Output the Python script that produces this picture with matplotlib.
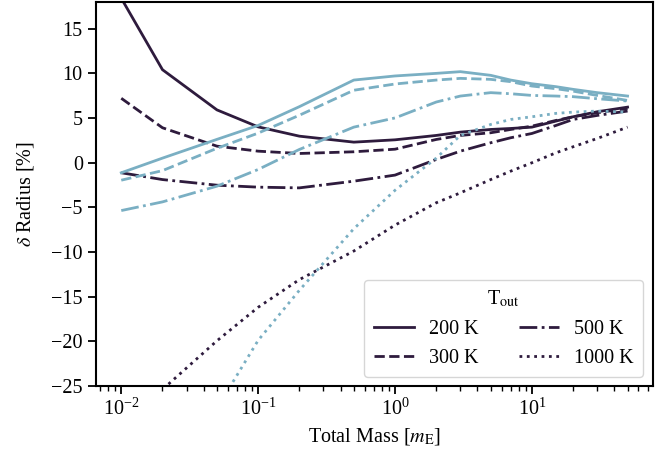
import matplotlib
matplotlib.use("Agg")
import matplotlib.pyplot as plt

plt.rcParams['font.family'] = ['Liberation Serif', 'DejaVu Serif']
plt.rcParams['mathtext.fontset'] = 'stix'
plt.rcParams['font.size'] = 14.5

# total mass grid [Earth masses]
mass = [0.01, 0.02, 0.05, 0.1, 0.2, 0.5, 1, 2, 3, 5, 7, 10, 15, 20, 30, 50]

# delta radius [%], dark family
dark_200 = [18.4, 10.4, 5.9, 4.0, 2.96, 2.29, 2.55, 3.04, 3.41, 3.71, 3.82, 3.97, 4.65, 5.13, 5.69, 6.21]
dark_300 = [7.2, 3.9, 1.84, 1.28, 1.02, 1.21, 1.5, 2.59, 3.04, 3.34, 3.71, 4.08, 4.72, 5.13, 5.58, 6.07]
dark_500 = [-1.14, -1.9, -2.53, -2.75, -2.83, -2.08, -1.4, 0.35, 1.28, 2.22, 2.78, 3.26, 4.16, 4.83, 5.28, 5.77]
dark_1000 = [-30.0, -25.4, -19.95, -16.2, -13.1, -9.9, -7.0, -4.5, -3.39, -1.9, -0.96, -0.02, 1.1, 1.77, 2.7, 3.97]

# delta radius [%], light family
light_200 = [-1.14, 0.5, 2.6, 4.16, 6.26, 9.24, 9.7, 9.99, 10.18, 9.77, 9.24, 8.83, 8.5, 8.2, 7.83, 7.45]
light_300 = [-1.97, -0.9, 1.6, 3.3, 5.3, 8.1, 8.8, 9.24, 9.43, 9.32, 9.06, 8.57, 8.27, 8.0, 7.52, 6.96]
light_500 = [-5.37, -4.4, -2.64, -0.77, 1.47, 3.97, 5.0, 6.78, 7.45, 7.83, 7.71, 7.52, 7.45, 7.38, 7.15, 6.89]
light_1000 = [-42.0, -36.0, -27.5, -19.9, -14.3, -7.4, -3.1, 0.5, 3.04, 4.27, 4.83, 5.13, 5.51, 5.65, 5.77, 5.65]

labels = ['200 K', '300 K', '500 K', '1000 K']
styles = ['-', '--', '-.', ':']
dark = '#2e1b3d'
light = '#7aafc3'

fig = plt.figure(figsize=(6.71, 4.54), dpi=100)
ax = fig.add_axes([0.143, 0.150, 0.830, 0.846])

for ys, ls, lab in zip([dark_200, dark_300, dark_500, dark_1000], styles, labels):
    ax.plot(mass, ys, color=dark, ls=ls, lw=2, label=lab)
for ys, ls in zip([light_200, light_300, light_500, light_1000], styles):
    ax.plot(mass, ys, color=light, ls=ls, lw=2)

ax.set_xscale('log')
ax.set_ylim(-25, 18)
ax.set_yticks([-25, -20, -15, -10, -5, 0, 5, 10, 15])
ax.set_xlabel(r'Total Mass [$m_\mathrm{E}$]', labelpad=4)
ax.set_ylabel(r'$\delta$ Radius [%]', labelpad=11)

for s in ax.spines.values():
    s.set_linewidth(1.5)
ax.tick_params(which='major', direction='out', length=6, width=1.3)
ax.tick_params(which='minor', direction='out', length=3.5, width=1.0)

leg = ax.legend(title=r'T$_\mathrm{out}$', ncol=2, loc='lower right',
                handlelength=2.0, columnspacing=2.0, fancybox=True,
                borderpad=0.45, labelspacing=0.5, handletextpad=0.75,
                borderaxespad=0, bbox_to_anchor=(0.982, 0.023))
leg.get_frame().set_edgecolor('#cccccc')

fig.savefig('out.png', dpi=100)
